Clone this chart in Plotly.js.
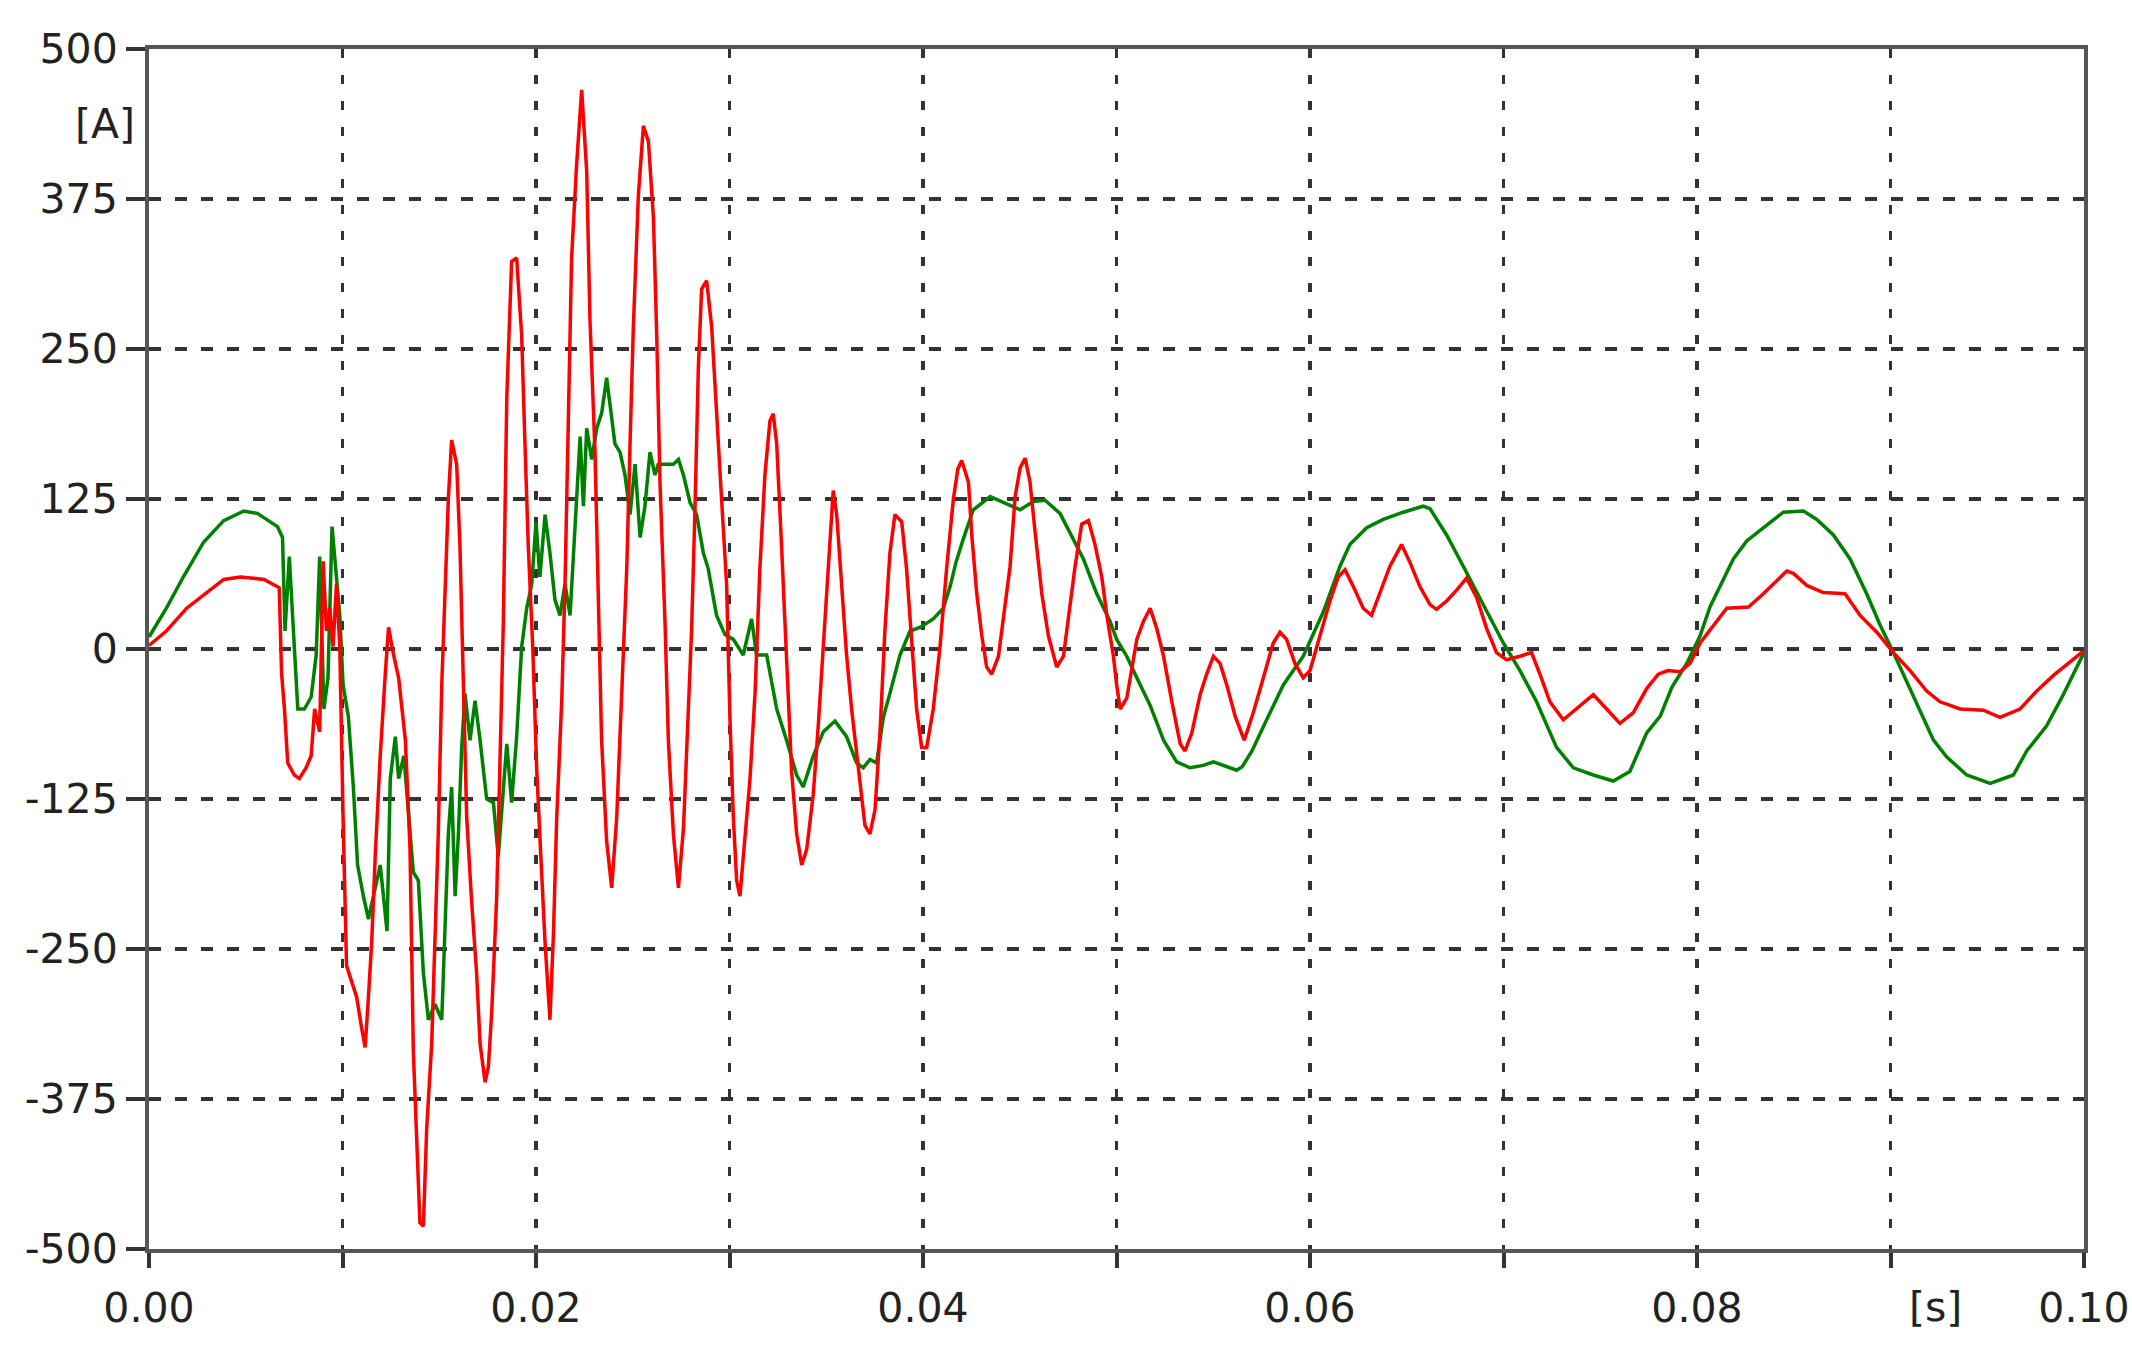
<!DOCTYPE html>
<html>
<head>
<meta charset="utf-8">
<script src="https://cdn.plot.ly/plotly-3.0.1.min.js"></script>
<style>
html,body{margin:0;padding:0;background:#fff;}
#chart{width:2132px;height:1368px;}
</style>
</head>
<body>
<div id="chart"></div>
<script>
// time [s] and current [A]
const greenT = [0.0000,0.0009,0.00177,0.00282,0.00386,0.0049,0.0056,0.00664,0.0069,0.00703,0.00725,0.00751,0.00769,0.00803,0.00838,0.00864,0.00882,0.00904,0.00925,0.00946,0.00969,0.00986,0.01003,0.0103,0.01056,0.01078,0.01108,0.01134,0.0116,0.01195,0.0123,0.01247,0.01273,0.0129,0.01317,0.01343,0.01366,0.01392,0.01418,0.01444,0.01478,0.01513,0.0153,0.01547,0.01564,0.01582,0.01599,0.01616,0.01633,0.01659,0.01685,0.01711,0.01745,0.0178,0.01805,0.01823,0.01849,0.01874,0.019,0.01926,0.01952,0.01978,0.0200,0.0202,0.02047,0.02072,0.02098,0.02124,0.0215,0.02176,0.02202,0.02228,0.02245,0.02262,0.02288,0.02314,0.0234,0.02365,0.02383,0.02408,0.02434,0.0246,0.02486,0.02512,0.02538,0.02563,0.02589,0.02615,0.02632,0.02658,0.0271,0.02736,0.02762,0.02796,0.0283,0.02865,0.0289,0.02933,0.02977,0.0302,0.03071,0.03114,0.0314,0.03192,0.03244,0.03295,0.03347,0.03381,0.03433,0.03485,0.03545,0.03605,0.03657,0.03691,0.03726,0.0376,0.03795,0.03829,0.03881,0.03933,0.03984,0.04053,0.04105,0.0414,0.0417,0.04209,0.0426,0.04347,0.04416,0.04502,0.04571,0.04631,0.04708,0.04777,0.04829,0.04898,0.04967,0.05001,0.05053,0.05105,0.05174,0.05243,0.05311,0.0538,0.05449,0.05501,0.0557,0.05621,0.0565,0.057,0.05776,0.05862,0.05965,0.06069,0.06155,0.06206,0.06293,0.06379,0.06482,0.06585,0.0662,0.06706,0.06792,0.06896,0.06999,0.07085,0.07171,0.07274,0.07361,0.07464,0.07567,0.07653,0.0774,0.0781,0.0787,0.07947,0.08016,0.08067,0.08136,0.08188,0.08257,0.08343,0.08446,0.0855,0.08619,0.08705,0.08791,0.08877,0.08946,0.09015,0.09084,0.09153,0.09222,0.09291,0.09394,0.09515,0.09635,0.09704,0.09807,0.09893,0.09988,0.1000];
const greenI = [10,34,60,89,107,115,113,102,93,15,77,2,-50,-50,-40,-5,77,-50,-24,102,60,28,-30,-56,-115,-180,-206,-225,-206,-180,-235,-108,-73,-108,-89,-141,-186,-193,-270,-309,-296,-309,-238,-154,-115,-206,-154,-82,-37,-76,-43,-76,-125,-128,-173,-134,-79,-128,-73,2,34,54,106,60,112,80,41,28,54,28,106,177,119,184,158,184,197,226,203,171,164,145,112,154,93,119,164,145,154,154,154,158,145,122,112,80,67,28,12,8,-5,25,-5,-5,-50,-76,-105,-115,-89,-69,-60,-73,-95,-99,-92,-95,-57,-37,-5,15,18,25,34,52,72,92,116,127,122,116,123,124,113,92,75,46,23,8,-6,-24,-47,-76,-94,-99,-97,-94,-98,-101,-98,-85,-59,-30,-6,31,69,87,101,108,114,119,117,95,69,37,5,-18,-44,-82,-99,-105,-110,-102,-70,-56,-32,-12,11,35,58,75,90,101,114,115,108,95,75,46,20,-3,-27,-52,-76,-90,-105,-112,-105,-85,-64,-38,-6,-3];

const redT = [0.0000,0.0009,0.00195,0.0030,0.00386,0.00473,0.00595,0.00673,0.00685,0.0070,0.00717,0.00751,0.00777,0.00812,0.00838,0.00856,0.00882,0.0090,0.00917,0.00934,0.00951,0.00969,0.00986,0.01003,0.01021,0.01047,0.01073,0.01099,0.01117,0.01134,0.01151,0.01169,0.01195,0.01221,0.01238,0.01264,0.0129,0.01325,0.01349,0.01366,0.01383,0.0140,0.01418,0.01435,0.01461,0.01478,0.01495,0.01513,0.0153,0.01547,0.01564,0.0159,0.01607,0.01625,0.01642,0.01668,0.01693,0.01711,0.01737,0.01754,0.01771,0.01797,0.01814,0.01831,0.01849,0.01874,0.0190,0.01926,0.01943,0.0196,0.01983,0.02004,0.02029,0.02047,0.02072,0.0209,0.02107,0.02133,0.0215,0.02167,0.02184,0.0221,0.02236,0.02262,0.02279,0.02305,0.02322,0.02339,0.02365,0.02391,0.02417,0.02443,0.02469,0.02486,0.02503,0.02529,0.02555,0.02581,0.02607,0.02624,0.02641,0.02667,0.02684,0.0271,0.02736,0.02762,0.0278,0.02804,0.02822,0.02839,0.02856,0.02882,0.02908,0.02933,0.02959,0.02985,0.03002,0.0302,0.03037,0.03054,0.0308,0.03106,0.03132,0.03157,0.03183,0.03209,0.03226,0.03244,0.03269,0.03295,0.03321,0.03347,0.03373,0.03399,0.03433,0.03459,0.03485,0.0351,0.03528,0.03536,0.03554,0.0358,0.03605,0.03631,0.03666,0.0370,0.03726,0.03752,0.03778,0.03803,0.03829,0.03855,0.0389,0.03915,0.03941,0.03967,0.03993,0.04019,0.04053,0.04088,0.04122,0.04157,0.0418,0.0420,0.04235,0.04252,0.04278,0.04304,0.04329,0.04355,0.0439,0.04416,0.0445,0.04476,0.04502,0.04528,0.04553,0.04579,0.04614,0.04648,0.04691,0.04726,0.04752,0.04786,0.0482,0.04855,0.04889,0.04924,0.0495,0.04984,0.05001,0.05019,0.05053,0.05079,0.05105,0.05139,0.05174,0.05208,0.05243,0.05286,0.05329,0.05354,0.05389,0.05432,0.05466,0.05501,0.05535,0.0557,0.05613,0.0566,0.05707,0.05759,0.0581,0.05845,0.05879,0.05922,0.05965,0.0600,0.06051,0.06103,0.06146,0.06181,0.06224,0.06275,0.06318,0.06361,0.06413,0.06473,0.06517,0.06568,0.0662,0.06654,0.06706,0.06758,0.06809,0.06861,0.06913,0.06964,0.07016,0.07085,0.07145,0.07188,0.0724,0.07309,0.07378,0.07464,0.07533,0.07602,0.07671,0.0774,0.0780,0.0785,0.07912,0.07964,0.08016,0.08085,0.08154,0.08266,0.08343,0.08464,0.08498,0.08567,0.08653,0.08765,0.08843,0.08929,0.09015,0.09101,0.09187,0.09256,0.0936,0.0948,0.09566,0.09669,0.09756,0.09842,0.09988,0.1000];
const redI = [3,15,34,47,58,60,58,51,-20,-50,-95,-105,-108,-99,-89,-50,-69,73,15,34,2,54,2,-141,-264,-277,-290,-316,-332,-290,-244,-173,-89,-21,18,-5,-24,-76,-167,-335,-407,-478,-481,-400,-329,-245,-154,-30,44,125,174,154,86,-37,-141,-212,-270,-329,-361,-348,-303,-206,-95,21,209,323,326,261,171,86,2,-102,-186,-245,-309,-238,-141,-43,54,184,326,404,466,398,274,164,41,-76,-160,-199,-141,-43,67,171,268,378,436,423,359,261,138,21,-76,-154,-199,-150,-85,15,119,235,300,307,268,203,125,54,-56,-141,-193,-206,-160,-108,-37,67,145,190,196,171,86,-11,-102,-154,-180,-167,-121,-63,2,73,119,132,112,54,-5,-50,-102,-147,-154,-134,-69,15,80,112,106,67,8,-50,-82,-82,-50,2,67,125,150,157,139,95,46,11,-15,-21,-6,28,69,127,151,159,139,98,46,11,-15,-6,28,69,104,107,87,60,28,-6,-30,-50,-41,-15,8,23,34,17,-6,-44,-79,-85,-70,-38,-21,-6,-12,-30,-56,-76,-53,-24,5,14,8,-12,-24,-18,11,40,60,66,52,34,28,46,69,87,72,52,37,33,40,49,59,43,17,-3,-9,-6,-3,-21,-44,-59,-50,-38,-50,-62,-53,-33,-21,-18,-19,-12,5,20,34,35,46,65,63,53,47,46,28,14,-3,-18,-35,-44,-50,-51,-57,-50,-35,-22,-3,-3];

const xTickVals = [0,0.01,0.02,0.03,0.04,0.05,0.06,0.07,0.08,0.09,0.10];
const xTickText = ['0.00','','0.02','','0.04','','0.06','','0.08','','0.10'];
const yTickVals = [-500,-375,-250,-125,0,125,250,375,500];
const yTickText = ['-500','-375','-250','-125','0','125','250','375','500'];

const tickFont = {family:'DejaVu Sans, Verdana, sans-serif', size:41, color:'#222'};

const traces = [
  {x: greenT, y: greenI, type:'scatter', mode:'lines', line:{color:'#008000', width:3.5}, hoverinfo:'skip'},
  {x: redT, y: redI, type:'scatter', mode:'lines', line:{color:'#ff0000', width:3.5}, hoverinfo:'skip'}
];

const axisCommon = {
  showline:true, linewidth:4, linecolor:'#555', mirror:true,
  ticks:'outside', tickwidth:4, tickcolor:'#333',
  showgrid:true, gridcolor:'#333', gridwidth:3.5,
  zeroline:false, tickfont:tickFont, fixedrange:true
};

const layout = {
  width:2132, height:1368,
  margin:{l:149, r:48, t:49, b:119, pad:0},
  paper_bgcolor:'#fff', plot_bgcolor:'#fff',
  showlegend:false,
  xaxis: Object.assign({}, axisCommon, {
    range:[0,0.1], tickmode:'array', tickvals:xTickVals, ticktext:xTickText,
    ticklen:15, griddash:'9px,17px', ticklabelstandoff:5
  }),
  yaxis: Object.assign({}, axisCommon, {
    range:[-500,500], tickmode:'array', tickvals:yTickVals, ticktext:yTickText,
    ticklen:19, griddash:'12px,14px', ticklabelstandoff:0
  }),
  annotations:[
    {text:'[A]', xref:'paper', yref:'paper', x:-0.0062, y:0.9375, xanchor:'right', yanchor:'middle', showarrow:false, font:tickFont},
    {text:'[s]', xref:'paper', yref:'paper', x:0.923, y:-0.048, xanchor:'center', yanchor:'middle', showarrow:false, font:tickFont}
  ]
};

Plotly.newPlot('chart', traces, layout, {displayModeBar:false, staticPlot:true});
</script>
</body>
</html>
